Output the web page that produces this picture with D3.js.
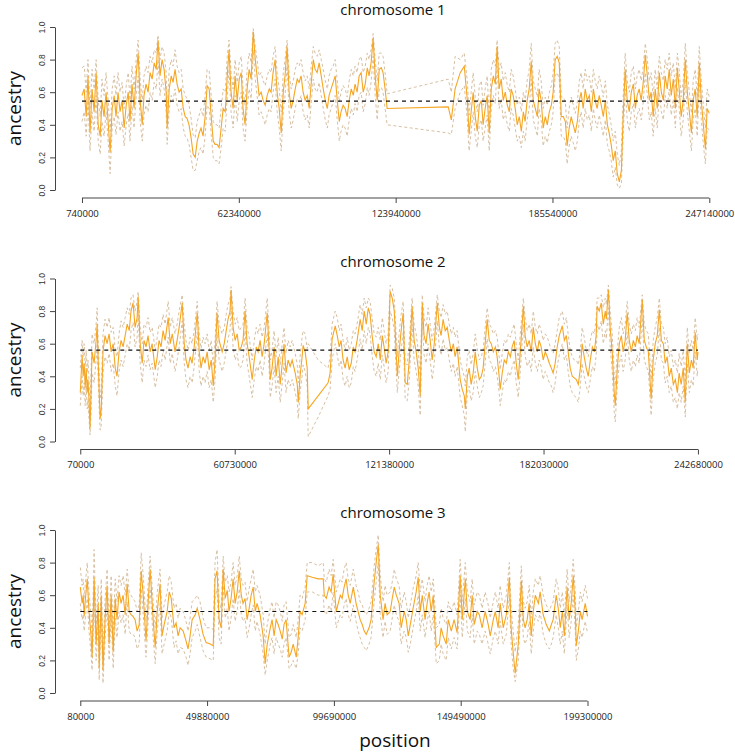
<!DOCTYPE html>
<html>
<head>
<meta charset="utf-8">
<script src="https://cdn.jsdelivr.net/npm/d3@7"></script>
<style>
  body { margin: 0; background: #fff; }
  text { font-family: 'Open Sans', sans-serif; }
</style>
</head>
<body>
<div id="chart"></div>
<script>
// rows: [position (Mb), ancestry, lower bound, upper bound]
const chr1 = [
  [0.74,.58,.42,.75],[1.6,.62,.48,.76],[2.4,.45,.33,.60],[3.1,.70,.55,.80],[3.9,.35,.24,.50],[4.7,.62,.48,.74],
  [5.5,.48,.36,.62],[6.3,.72,.58,.80],[7.1,.40,.30,.55],[7.9,.33,.22,.45],[8.6,.55,.42,.68],[9.4,.45,.33,.58],
  [10.2,.60,.48,.72],[11.0,.42,.30,.55],[11.8,.23,.10,.36],[12.6,.50,.38,.62],[13.4,.58,.45,.70],[14.1,.45,.34,.58],
  [14.9,.60,.48,.72],[15.7,.48,.36,.60],[16.5,.55,.42,.66],[17.3,.38,.27,.50],[18.1,.52,.40,.64],[18.9,.60,.47,.72],
  [19.6,.42,.30,.55],[20.4,.65,.52,.76],[21.2,.50,.38,.62],[22.0,.70,.57,.80],[22.8,.84,.70,.92],[23.6,.55,.42,.68],
  [24.4,.40,.30,.54],[25.1,.58,.46,.70],[25.9,.65,.52,.76],[26.7,.60,.48,.72],[27.5,.72,.60,.82],[28.3,.68,.55,.78],
  [29.1,.78,.66,.86],[29.9,.74,.62,.84],[30.6,.92,.80,.95],[31.4,.70,.58,.80],[32.2,.80,.68,.88],[33.0,.74,.62,.84],
  [33.8,.60,.48,.72],[34.2,.38,.28,.50],[35.0,.62,.50,.74],[35.8,.70,.58,.80],[36.5,.66,.55,.76],[37.3,.74,.62,.86],
  [38.1,.65,.52,.76],[38.9,.60,.48,.72],[39.7,.62,.50,.74],[40.5,.50,.38,.62],[41.3,.45,.33,.58],[42.0,.44,.32,.56],
  [42.8,.40,.28,.52],[43.6,.32,.20,.44],[44.4,.22,.12,.34],[45.2,.20,.12,.32],[46.0,.30,.18,.42],[46.8,.35,.24,.46],
  [47.5,.38,.26,.50],[48.3,.33,.22,.45],[49.1,.45,.33,.58],[49.9,.64,.52,.74],[50.7,.62,.50,.73],[51.5,.45,.34,.58],
  [52.3,.30,.20,.42],[53.0,.28,.18,.40],[53.8,.28,.18,.40],[54.6,.26,.16,.38],[55.4,.38,.26,.50],[56.2,.50,.38,.62],
  [57.0,.48,.36,.60],[57.8,.70,.57,.82],[58.5,.86,.74,.92],[59.3,.60,.48,.72],[60.1,.50,.38,.62],[60.9,.70,.58,.80],
  [61.7,.55,.42,.66],[62.5,.68,.55,.78],[63.3,.72,.60,.82],[64.0,.50,.38,.62],[64.8,.40,.30,.52],[65.6,.62,.50,.74],
  [66.4,.74,.62,.84],[67.2,.68,.56,.78],[68.0,.97,.86,.99],[68.8,.80,.68,.88],[69.5,.70,.58,.80],[70.3,.58,.46,.70],
  [71.1,.60,.48,.72],[71.9,.55,.44,.67],[72.7,.52,.40,.64],[73.5,.58,.46,.70],[74.3,.62,.50,.74],[75.0,.60,.48,.72],
  [75.8,.72,.60,.82],[76.6,.80,.68,.88],[77.4,.60,.48,.72],[78.2,.50,.38,.62],[79.0,.35,.24,.48],[79.8,.60,.48,.72],
  [80.5,.70,.58,.80],[81.3,.88,.76,.92],[82.1,.60,.48,.72],[82.9,.50,.38,.62],[83.7,.55,.43,.67],[84.5,.62,.50,.74],
  [85.3,.68,.56,.78],[86.0,.66,.54,.76],[86.8,.70,.58,.80],[87.6,.60,.48,.72],[88.4,.55,.43,.67],[89.2,.58,.46,.70],
  [90.0,.50,.38,.62],[90.8,.66,.54,.76],[91.6,.80,.68,.88],[92.3,.74,.62,.84],[93.1,.72,.60,.82],[93.9,.78,.66,.86],
  [94.7,.70,.58,.80],[95.5,.62,.50,.74],[96.3,.55,.43,.67],[97.1,.50,.38,.62],[97.8,.58,.46,.70],[98.6,.62,.50,.74],
  [99.4,.66,.54,.76],[100.2,.70,.58,.80],[101.0,.55,.43,.67],[101.8,.42,.30,.54],[102.5,.48,.36,.60],[103.3,.52,.40,.64],
  [104.1,.50,.38,.62],[104.9,.45,.33,.57],[105.7,.55,.43,.67],[106.5,.62,.50,.74],[107.3,.58,.46,.70],[108.0,.65,.53,.76],
  [108.8,.60,.48,.72],[109.6,.70,.58,.80],[110.4,.72,.60,.82],[111.2,.60,.48,.72],[112.0,.65,.53,.76],[112.8,.75,.63,.84],
  [113.5,.70,.58,.80],[114.3,.78,.66,.86],[115.1,.93,.82,.96],[115.9,.70,.58,.80],[116.7,.55,.43,.67],[117.5,.74,.62,.84],
  [118.3,.75,.63,.84],[119.0,.72,.60,.82],[119.8,.62,.50,.72],[120.6,.50,.40,.59],
  [144.6,.51,.35,.68],[145.8,.43,.34,.60],[147.3,.62,.50,.82],[149.3,.72,.60,.80],[150.9,.76,.64,.84],
  [152.1,.55,.43,.67],[152.8,.34,.24,.46],[153.6,.48,.36,.60],[154.4,.60,.48,.72],[155.2,.45,.33,.57],[156.0,.36,.26,.48],
  [156.8,.52,.40,.64],[157.6,.55,.43,.67],[158.3,.40,.30,.52],[159.1,.50,.38,.62],[159.9,.58,.46,.70],[160.7,.35,.24,.46],
  [161.5,.62,.50,.74],[162.3,.70,.58,.80],[163.1,.65,.53,.76],[163.8,.88,.76,.92],[164.6,.62,.50,.74],[165.4,.68,.56,.78],
  [166.2,.55,.43,.67],[167.0,.60,.48,.72],[167.8,.52,.40,.64],[168.6,.48,.36,.60],[169.3,.62,.50,.74],[170.1,.58,.46,.70],
  [170.9,.50,.38,.62],[171.7,.40,.30,.52],[172.5,.45,.33,.57],[173.3,.36,.26,.48],[174.1,.48,.36,.60],[174.8,.42,.30,.54],
  [175.6,.55,.43,.67],[176.4,.62,.50,.74],[177.2,.79,.68,.90],[178.0,.55,.43,.67],[178.8,.50,.38,.62],[179.6,.45,.33,.57],
  [180.3,.62,.50,.74],[181.1,.55,.43,.67],[181.9,.38,.27,.50],[182.7,.45,.33,.57],[183.5,.40,.29,.52],[184.3,.48,.36,.60],
  [185.1,.52,.40,.64],[185.8,.60,.48,.72],[186.6,.80,.70,.90],[187.4,.82,.72,.92],[188.2,.78,.68,.88],[189.0,.45,.33,.57],
  [189.8,.45,.33,.57],[190.6,.42,.30,.54],[191.3,.27,.16,.38],[192.1,.38,.27,.50],[192.9,.45,.33,.57],[193.7,.40,.29,.52],
  [194.5,.35,.24,.47],[195.3,.42,.30,.54],[196.1,.55,.43,.67],[196.8,.60,.48,.72],[197.6,.50,.38,.62],[198.4,.62,.50,.74],
  [199.2,.55,.43,.67],[200.0,.58,.46,.70],[200.8,.48,.36,.60],[201.6,.62,.50,.74],[202.3,.55,.43,.67],[203.1,.50,.38,.62],
  [203.9,.58,.46,.70],[204.7,.52,.40,.64],[205.5,.45,.33,.57],[206.3,.55,.43,.67],[207.1,.40,.28,.52],[207.8,.35,.24,.47],
  [208.6,.28,.18,.40],[209.4,.18,.08,.30],[210.2,.24,.14,.36],[211.0,.10,.03,.22],[211.8,.05,.01,.15],[212.6,.12,.04,.24],
  [213.3,.45,.33,.57],[214.1,.74,.62,.84],[214.9,.55,.43,.67],[215.7,.48,.36,.60],[216.5,.60,.48,.72],[217.3,.65,.53,.76],
  [218.1,.50,.38,.62],[218.8,.58,.46,.70],[219.6,.62,.50,.74],[220.4,.55,.43,.67],[221.2,.66,.54,.76],[222.0,.83,.72,.90],
  [222.8,.70,.58,.80],[223.6,.55,.43,.67],[224.3,.60,.48,.72],[225.1,.45,.33,.57],[225.9,.62,.50,.74],[226.7,.50,.38,.62],
  [227.5,.72,.60,.82],[228.3,.60,.48,.72],[229.1,.55,.43,.67],[229.8,.70,.58,.80],[230.6,.62,.50,.74],[231.4,.74,.62,.84],
  [232.2,.58,.46,.70],[233.0,.68,.56,.78],[233.8,.50,.38,.62],[234.6,.75,.63,.84],[235.3,.62,.50,.74],[236.1,.45,.33,.57],
  [236.9,.55,.43,.67],[237.7,.80,.68,.90],[238.5,.60,.48,.72],[239.3,.48,.36,.60],[240.1,.35,.24,.47],[240.8,.55,.43,.67],
  [241.6,.62,.50,.74],[242.4,.45,.33,.57],[243.2,.78,.66,.88],[244.0,.55,.43,.67],[244.8,.40,.28,.52],[245.6,.25,.16,.38],
  [246.3,.50,.38,.62],[247.14,.47,.37,.57]
]

const chr2 = [
  [0.07,.30,.22,.45],[0.8,.53,.40,.62],[1.2,.40,.28,.52],[1.6,.48,.36,.60],[2.0,.33,.22,.46],[2.4,.45,.34,.56],
  [2.8,.30,.20,.42],[3.1,.38,.26,.50],[3.5,.25,.14,.38],[3.9,.08,.04,.18],[4.3,.30,.18,.42],[4.7,.55,.42,.66],
  [5.5,.48,.36,.60],[6.3,.62,.50,.72],[6.7,.72,.60,.82],[7.1,.50,.38,.62],[7.5,.30,.20,.42],[7.9,.14,.07,.26],
  [8.3,.20,.10,.32],[9.0,.55,.42,.66],[9.8,.65,.52,.75],[10.6,.60,.48,.70],[11.4,.66,.54,.76],[12.2,.55,.43,.67],
  [13.0,.60,.48,.70],[13.8,.45,.34,.56],[14.5,.40,.28,.52],[15.3,.55,.43,.66],[16.1,.62,.50,.74],[16.9,.58,.46,.70],
  [17.7,.65,.53,.76],[18.5,.72,.60,.82],[19.3,.68,.56,.78],[20.0,.80,.68,.88],[20.8,.85,.73,.90],[21.6,.70,.58,.80],
  [22.4,.76,.64,.86],[22.8,.89,.78,.92],[23.6,.60,.48,.70],[24.4,.48,.36,.60],[25.1,.62,.50,.72],[25.9,.58,.46,.70],
  [26.7,.65,.53,.76],[27.5,.55,.44,.67],[28.3,.60,.48,.70],[29.5,.44,.33,.56],[30.3,.52,.40,.64],[31.0,.62,.50,.72],
  [31.8,.58,.46,.70],[32.6,.68,.56,.78],[33.4,.62,.50,.72],[34.6,.76,.64,.86],[35.4,.60,.48,.70],[36.2,.66,.54,.76],
  [37.3,.55,.43,.66],[38.1,.62,.50,.72],[38.9,.70,.58,.80],[40.1,.85,.74,.90],[40.9,.60,.48,.72],[41.6,.50,.38,.62],
  [42.4,.45,.33,.56],[43.2,.52,.40,.64],[44.0,.48,.36,.60],[44.8,.58,.46,.68],[46.0,.79,.67,.86],[46.8,.55,.43,.66],
  [47.5,.45,.34,.57],[48.3,.52,.40,.64],[49.1,.48,.36,.60],[49.9,.55,.43,.66],[50.7,.44,.33,.56],[51.5,.50,.38,.62],
  [52.3,.34,.24,.46],[53.0,.50,.38,.62],[53.8,.79,.67,.86],[54.6,.62,.50,.72],[55.8,.55,.43,.66],[56.6,.60,.48,.70],
  [57.4,.68,.56,.78],[58.1,.75,.63,.84],[58.9,.80,.68,.88],[59.3,.93,.82,.95],[60.1,.70,.58,.80],[60.9,.62,.50,.72],
  [61.7,.66,.54,.76],[62.5,.56,.45,.68],[63.3,.58,.46,.70],[64.0,.62,.50,.72],[64.8,.80,.68,.88],[65.6,.60,.48,.70],
  [66.4,.52,.40,.64],[67.6,.38,.27,.50],[68.4,.50,.38,.62],[69.2,.58,.46,.70],[69.9,.55,.43,.66],[70.7,.62,.50,.72],
  [71.5,.52,.40,.64],[72.3,.60,.48,.70],[73.5,.79,.67,.88],[74.3,.55,.43,.66],[74.7,.38,.27,.50],[75.4,.45,.34,.56],
  [76.2,.58,.46,.68],[77.0,.40,.30,.52],[77.8,.52,.40,.64],[78.6,.35,.24,.47],[79.4,.48,.36,.60],[80.1,.60,.48,.70],
  [80.9,.42,.30,.54],[81.7,.50,.38,.62],[82.5,.46,.34,.58],[83.3,.50,.38,.62],[84.5,.42,.30,.54],[85.3,.35,.24,.47],
  [85.7,.24,.14,.36],[86.4,.40,.30,.52],[87.2,.52,.40,.64],[87.6,.59,.47,.68],[88.4,.55,.43,.66],[89.2,.45,.34,.57],
  [89.6,.20,.03,.60],[93.5,.28,.15,.50],[97.4,.36,.28,.45],[98.2,.42,.32,.52],[99.0,.63,.50,.72],[100.2,.71,.60,.80],
  [101.0,.65,.53,.76],[101.8,.58,.46,.68],[102.5,.62,.50,.72],[103.3,.50,.38,.62],[104.1,.45,.34,.56],[104.9,.52,.40,.64],
  [105.7,.44,.33,.56],[106.5,.48,.36,.60],[107.3,.58,.46,.68],[108.0,.55,.43,.66],[108.8,.62,.50,.72],[110.0,.75,.63,.84],
  [110.8,.68,.56,.78],[111.6,.80,.68,.88],[112.4,.72,.60,.82],[113.2,.82,.70,.88],[113.9,.78,.66,.86],[114.7,.65,.53,.76],
  [115.5,.55,.43,.66],[116.3,.52,.40,.64],[117.1,.60,.48,.70],[117.9,.50,.38,.62],[118.7,.65,.53,.76],[119.4,.58,.46,.68],
  [120.2,.48,.36,.60],[121.0,.55,.43,.66],[121.8,.92,.80,.96],[122.6,.88,.76,.94],[123.4,.80,.68,.88],[124.6,.40,.30,.52],
  [125.3,.55,.43,.66],[126.1,.68,.56,.78],[126.9,.79,.67,.86],[127.7,.36,.26,.48],[128.5,.35,.25,.47],[129.3,.50,.38,.62],
  [130.4,.83,.72,.88],[131.2,.62,.50,.72],[132.0,.55,.43,.66],[132.8,.45,.34,.56],[133.6,.28,.16,.40],[134.4,.85,.74,.90],
  [135.1,.65,.53,.76],[135.9,.60,.48,.70],[136.7,.72,.60,.82],[137.5,.62,.50,.72],[138.3,.50,.38,.62],[139.1,.60,.48,.70],
  [140.3,.85,.74,.90],[141.1,.70,.58,.80],[141.8,.65,.53,.76],[142.6,.75,.63,.84],[143.4,.68,.56,.78],[144.2,.70,.58,.80],
  [145.0,.62,.50,.72],[145.8,.55,.43,.66],[146.6,.60,.48,.70],[147.3,.52,.40,.64],[148.1,.58,.46,.68],[149.3,.38,.27,.50],
  [150.1,.32,.22,.44],[150.9,.28,.16,.40],[151.3,.20,.06,.34],[152.1,.40,.30,.52],[152.8,.45,.34,.56],[153.6,.35,.25,.47],
  [154.4,.42,.30,.54],[155.2,.55,.43,.66],[156.0,.45,.34,.57],[156.8,.38,.27,.50],[157.6,.40,.30,.52],[158.3,.45,.34,.56],
  [159.1,.60,.48,.70],[159.9,.75,.63,.82],[160.7,.62,.50,.72],[161.5,.60,.48,.70],[162.3,.55,.43,.66],[163.1,.58,.46,.68],
  [163.8,.52,.40,.64],[164.6,.40,.30,.52],[165.0,.32,.22,.44],[165.8,.42,.30,.54],[166.6,.50,.38,.62],[167.4,.48,.36,.60],
  [168.2,.55,.43,.66],[169.0,.52,.40,.64],[169.7,.58,.46,.68],[170.5,.62,.50,.72],[171.3,.48,.36,.60],[172.1,.38,.27,.50],
  [172.9,.55,.43,.66],[174.1,.83,.72,.88],[174.8,.65,.53,.76],[175.6,.58,.46,.68],[176.4,.62,.50,.72],[177.2,.55,.43,.66],
  [178.0,.70,.58,.80],[178.8,.60,.48,.70],[179.6,.55,.43,.66],[180.3,.62,.50,.72],[181.1,.58,.46,.68],[181.9,.50,.38,.62],
  [182.7,.55,.43,.66],[183.5,.52,.40,.64],[184.3,.48,.36,.60],[185.1,.45,.34,.56],[185.8,.42,.30,.54],[186.6,.48,.36,.60],
  [187.4,.58,.46,.68],[188.2,.65,.53,.76],[189.4,.71,.60,.80],[190.2,.62,.50,.72],[191.0,.65,.53,.76],[191.7,.55,.43,.66],
  [192.5,.45,.34,.56],[193.3,.40,.30,.52],[194.1,.39,.28,.50],[194.9,.38,.27,.50],[195.7,.35,.24,.47],[196.5,.45,.34,.56],
  [197.2,.60,.48,.70],[198.0,.52,.40,.64],[198.8,.45,.34,.56],[199.6,.40,.30,.52],[200.4,.50,.38,.62],[201.2,.58,.46,.68],
  [202.0,.55,.43,.66],[202.7,.65,.53,.76],[203.1,.83,.72,.88],[203.9,.80,.68,.88],[204.7,.85,.74,.90],[205.5,.72,.60,.82],
  [206.3,.80,.68,.88],[206.7,.75,.63,.84],[207.5,.93,.82,.96],[208.2,.70,.58,.80],[209.0,.55,.43,.66],[209.8,.30,.18,.42],
  [210.2,.22,.12,.34],[211.0,.45,.34,.56],[211.8,.60,.48,.70],[212.6,.65,.53,.76],[213.3,.55,.43,.66],[214.1,.62,.50,.72],
  [214.9,.79,.67,.86],[215.7,.62,.50,.72],[216.5,.55,.43,.66],[217.3,.62,.50,.72],[218.1,.58,.46,.68],[218.8,.65,.53,.76],
  [219.6,.60,.48,.70],[220.8,.87,.76,.90],[221.6,.62,.50,.72],[222.4,.58,.46,.68],[223.2,.55,.43,.66],[224.3,.26,.16,.38],
  [225.1,.50,.38,.62],[225.9,.60,.48,.70],[226.7,.65,.53,.76],[227.5,.81,.70,.88],[228.3,.62,.50,.72],[229.1,.60,.48,.70],
  [229.8,.48,.36,.60],[230.6,.52,.40,.64],[231.4,.40,.30,.52],[232.2,.45,.34,.56],[233.0,.35,.24,.46],[233.8,.38,.27,.50],
  [234.6,.30,.20,.42],[235.3,.42,.30,.54],[236.1,.35,.24,.46],[236.9,.45,.34,.56],[237.7,.24,.15,.36],[238.5,.60,.48,.70],
  [239.3,.42,.30,.54],[240.1,.50,.38,.62],[240.8,.45,.34,.56],[241.6,.67,.55,.76],[242.4,.50,.40,.62],[242.68,.55,.45,.66]
]

const chr3 = [
  [0.08,.65,.55,.77],[0.8,.55,.45,.66],[1.2,.60,.48,.70],[1.6,.47,.38,.58],[2.0,.56,.45,.66],[2.8,.70,.58,.80],
  [3.5,.50,.38,.62],[4.3,.35,.24,.48],[4.7,.22,.14,.34],[5.1,.45,.33,.57],[5.5,.71,.60,.88],[6.3,.30,.20,.42],
  [7.1,.55,.43,.66],[7.5,.15,.08,.26],[8.3,.60,.48,.70],[9.0,.14,.06,.26],[9.8,.45,.33,.57],[10.6,.66,.55,.76],
  [11.4,.30,.20,.42],[12.2,.60,.48,.72],[13.0,.25,.15,.38],[13.8,.58,.46,.70],[14.5,.45,.34,.56],[15.3,.62,.50,.72],
  [16.1,.55,.43,.66],[16.9,.60,.48,.72],[17.7,.48,.36,.60],[18.5,.67,.56,.76],[19.3,.50,.38,.62],[20.0,.48,.36,.60],
  [20.8,.47,.36,.58],[21.6,.45,.34,.56],[22.4,.38,.27,.50],[23.2,.42,.30,.54],[24.0,.75,.64,.86],[24.8,.60,.48,.72],
  [25.9,.32,.22,.44],[26.7,.55,.43,.66],[27.5,.76,.64,.84],[28.7,.45,.34,.56],[29.5,.28,.18,.40],[30.3,.50,.38,.62],
  [31.4,.67,.55,.76],[32.2,.35,.24,.46],[33.0,.42,.30,.54],[34.2,.50,.38,.62],[35.0,.62,.50,.72],[35.8,.58,.46,.68],
  [36.9,.40,.28,.52],[37.7,.43,.32,.55],[38.5,.35,.24,.46],[39.3,.40,.28,.52],[40.5,.38,.27,.50],[41.6,.32,.22,.44],
  [42.4,.27,.17,.38],[43.2,.35,.24,.46],[44.0,.45,.34,.56],[45.2,.48,.38,.58],[46.0,.52,.42,.60],[47.1,.45,.34,.56],
  [48.3,.36,.26,.46],[49.5,.31,.22,.40],[51.1,.30,.21,.40],[52.3,.29,.20,.39],[53.0,.70,.58,.80],[53.8,.75,.64,.88],
  [54.6,.45,.34,.56],[55.4,.40,.30,.52],[56.2,.76,.66,.84],[57.0,.58,.46,.68],[57.8,.63,.52,.72],[58.5,.50,.38,.62],
  [59.3,.58,.46,.68],[60.1,.70,.58,.80],[60.9,.55,.44,.66],[61.7,.62,.50,.72],[62.5,.75,.64,.84],[63.3,.60,.48,.70],
  [64.0,.55,.44,.66],[64.8,.58,.46,.68],[65.6,.45,.34,.56],[66.4,.52,.40,.64],[67.2,.60,.48,.70],[68.0,.65,.54,.76],
  [68.8,.50,.38,.62],[69.5,.55,.44,.66],[70.7,.48,.36,.60],[71.9,.35,.24,.48],[72.7,.18,.11,.30],[73.5,.30,.20,.42],
  [74.7,.40,.30,.52],[75.4,.45,.34,.56],[76.2,.35,.24,.46],[77.0,.45,.34,.56],[77.8,.42,.30,.54],[78.6,.38,.27,.50],
  [79.4,.33,.22,.44],[80.1,.42,.30,.54],[80.9,.45,.34,.56],[82.1,.22,.15,.34],[82.9,.25,.17,.36],[83.7,.30,.20,.42],
  [84.9,.22,.15,.34],[85.7,.35,.25,.46],[86.4,.50,.40,.60],[87.2,.48,.38,.58],[88.4,.55,.45,.65],[89.2,.72,.62,.80],
  [91.2,.71,.62,.80],[93.5,.70,.60,.78],[95.5,.70,.60,.80],[95.9,.60,.50,.70],[96.7,.58,.48,.68],[97.8,.65,.54,.76],
  [98.6,.62,.50,.72],[99.4,.73,.62,.82],[100.6,.50,.40,.62],[101.4,.55,.44,.66],[102.2,.60,.48,.70],[102.9,.58,.46,.68],
  [103.7,.65,.54,.76],[104.5,.70,.58,.80],[105.3,.60,.48,.70],[106.1,.55,.44,.66],[107.3,.65,.54,.76],[108.4,.55,.44,.66],
  [109.2,.50,.38,.62],[110.0,.45,.34,.56],[110.8,.42,.30,.54],[111.6,.38,.28,.50],[112.4,.36,.26,.48],[113.5,.40,.30,.52],
  [114.3,.45,.34,.56],[115.5,.68,.56,.78],[116.3,.80,.68,.88],[117.1,.91,.80,.97],[117.9,.60,.48,.72],[119.0,.45,.34,.56],
  [119.8,.55,.44,.66],[120.6,.48,.36,.60],[121.8,.50,.38,.62],[122.6,.58,.46,.68],[123.4,.65,.54,.76],[124.2,.60,.48,.70],
  [125.3,.55,.44,.66],[126.1,.40,.30,.52],[127.3,.50,.38,.62],[128.1,.45,.34,.56],[128.9,.35,.25,.46],[129.7,.42,.30,.54],
  [130.8,.52,.40,.64],[132.0,.62,.50,.72],[132.8,.71,.60,.80],[133.6,.50,.38,.62],[134.4,.60,.48,.70],[135.5,.45,.34,.56],
  [136.3,.55,.44,.66],[137.1,.62,.50,.72],[137.9,.50,.38,.62],[138.7,.60,.48,.70],[139.9,.28,.18,.40],[141.1,.30,.20,.42],
  [141.8,.40,.30,.52],[142.6,.35,.24,.46],[143.8,.30,.20,.42],[144.6,.45,.34,.56],[145.8,.38,.27,.50],[146.9,.45,.34,.56],
  [148.1,.37,.27,.48],[149.3,.72,.60,.82],[150.1,.45,.34,.56],[151.3,.70,.58,.80],[152.1,.50,.38,.62],[153.2,.45,.34,.56],
  [154.0,.60,.48,.70],[154.8,.42,.30,.54],[156.0,.50,.38,.62],[156.8,.48,.36,.60],[157.9,.40,.30,.52],[159.1,.50,.38,.62],
  [160.3,.42,.30,.54],[161.1,.35,.24,.46],[162.3,.45,.34,.56],[163.1,.50,.38,.62],[164.2,.40,.30,.52],[165.0,.55,.44,.66],
  [166.2,.40,.30,.52],[167.4,.48,.36,.60],[168.6,.71,.60,.80],[169.3,.40,.30,.52],[170.1,.25,.15,.38],[170.9,.12,.07,.25],
  [172.1,.30,.20,.42],[173.3,.69,.58,.78],[174.1,.45,.34,.56],[174.8,.40,.30,.52],[175.6,.45,.34,.56],[176.4,.55,.44,.66],
  [177.2,.35,.24,.46],[178.0,.50,.38,.62],[178.8,.60,.48,.70],[180.0,.55,.44,.66],[180.7,.62,.50,.72],[181.9,.48,.36,.60],
  [183.1,.42,.30,.54],[184.3,.38,.27,.50],[185.1,.42,.30,.54],[185.8,.45,.34,.56],[187.0,.60,.48,.70],[187.8,.52,.40,.64],
  [188.6,.40,.30,.52],[189.4,.50,.38,.62],[190.2,.35,.24,.46],[191.3,.65,.54,.76],[192.1,.45,.34,.56],[192.9,.55,.44,.66],
  [193.7,.72,.60,.82],[194.5,.50,.38,.62],[194.9,.29,.20,.40],[195.7,.38,.27,.50],[196.5,.50,.38,.62],[197.2,.45,.34,.56],
  [198.4,.55,.44,.66],[199.3,.47,.37,.58]
]

const titles = ['chromosome 1', 'chromosome 2', 'chromosome 3']
const means = [0.545, 0.56, 0.5]
const xTicks = [
  [740000, 62340000, 123940000, 185540000, 247140000],
  [70000, 60730000, 121380000, 182030000, 242680000],
  [80000, 49880000, 99690000, 149490000, 199300000]
]
const yTicks = [0, 0.2, 0.4, 0.6, 0.8, 1.0]

// canvas
const width = 735,
  height = 752,
  panelTop = 27,
  panelStep = 251.5,
  plotH = 163,
  axisX = 55

let svg = d3.select('#chart')
  .append('svg')
  .attr('width', width)
  .attr('height', height)

// all three panels share one bp scale
let x = d3.scaleLinear()
  .domain([0, 247140000])
  .range([80.1, 709.3])

let y = d3.scaleLinear()
  .domain([0, 1])
  .range([plotH, 0])

let lineFor = (k) => d3.line()
  .x(d => x(d[0] * 1e6))
  .y(d => y(d[k]))

let drawPanel = (data, i) => {
  let g = svg.append('g')
    .attr('transform', `translate(0,${panelTop + i * panelStep})`)

  // confidence bounds, dashed
  ;[2, 3].forEach(k => {
    g.append('path')
      .datum(data)
      .attr('d', lineFor(k))
      .attr('fill', 'none')
      .attr('stroke', '#d8c0a2')
      .attr('stroke-width', 1)
      .attr('stroke-dasharray', '3,2.5')
  })

  // ancestry
  g.append('path')
    .datum(data)
    .attr('d', lineFor(1))
    .attr('fill', 'none')
    .attr('stroke', '#f6a623')
    .attr('stroke-width', 1.1)

  // mean line
  let ends = [data[0][0], data[data.length - 1][0]]
  g.append('path')
    .datum(ends)
    .attr('d', d3.line().x(d => x(d * 1e6)).y(() => y(means[i])))
    .attr('stroke', '#111')
    .attr('stroke-width', 1.2)
    .attr('stroke-dasharray', '4,4')

  // y axis
  let yAxis = g.append('g')
    .attr('transform', `translate(${axisX},0)`)
    .call(d3.axisLeft(y).tickValues(yTicks).tickSize(5).tickSizeOuter(0).tickFormat(d3.format('.1f')))
  yAxis.selectAll('path, line').attr('stroke', '#444')
  yAxis.selectAll('text')
    .attr('x', 0)
    .attr('y', -10)
    .attr('dy', 0)
    .attr('transform', 'rotate(-90)')
    .style('text-anchor', 'middle')
    .style('font-family', "'Liberation Sans', Arial, sans-serif")
    .style('font-size', '8.5px')
    .attr('fill', '#333')

  // x axis, line only between first and last tick
  let ticks = xTicks[i]
  let xAxis = g.append('g')
    .attr('transform', `translate(0,${plotH + 8})`)
    .call(d3.axisBottom(x).tickValues(ticks).tickSize(5).tickSizeOuter(0).tickFormat(d3.format('d')))
  xAxis.select('.domain').attr('d', `M${x(ticks[0])},0H${x(ticks[ticks.length - 1])}`)
  xAxis.selectAll('path, line').attr('stroke', '#444')
  xAxis.selectAll('text')
    .attr('y', 12)
    .style('font-size', '9.5px')
    .attr('fill', '#222')

  // title
  g.append('text')
    .attr('x', 393)
    .attr('y', -12)
    .attr('text-anchor', 'middle')
    .style('font-size', '15px')
    .attr('fill', '#111')
    .text(titles[i])

  // y label
  g.append('text')
    .attr('transform', `translate(21,${plotH / 2}) rotate(-90)`)
    .attr('text-anchor', 'middle')
    .style('font-size', '19px')
    .attr('fill', '#111')
    .text('ancestry')
}

;[chr1, chr2, chr3].forEach((d, i) => drawPanel(d, i))

svg.append('text')
  .attr('x', 395)
  .attr('y', 747)
  .attr('text-anchor', 'middle')
  .style('font-size', '19px')
  .attr('fill', '#111')
  .text('position')
</script>
</body>
</html>
